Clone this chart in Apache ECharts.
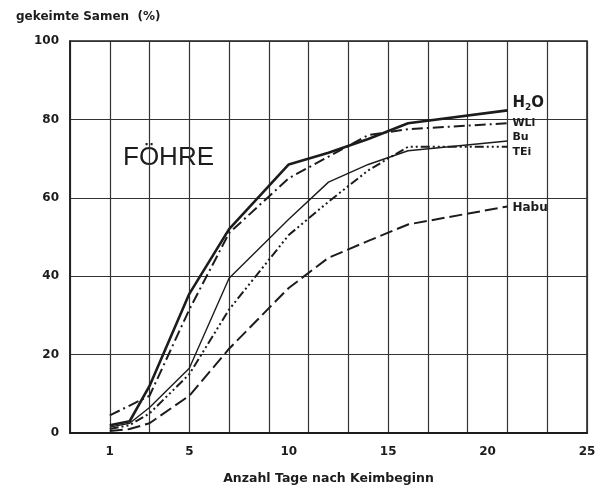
<!DOCTYPE html>
<html>
<head>
<meta charset="utf-8">
<script src="https://cdn.jsdelivr.net/npm/echarts@6/dist/echarts.min.js"></script>
<style>
  html, body { margin: 0; padding: 0; background: #fff; }
  #main { width: 603px; height: 490px; }
</style>
</head>
<body>
<div id="main"></div>
<script>
// days after germination start (x values of measured points)
const days = [1, 2, 3, 5, 7, 10, 12, 14, 16, 21];

// germinated seeds in %
const h2o = [2, 3, 12, 35.5, 52, 68.5, 71.5, 75, 79, 82.3];
const wli = [4.5, 7, 9.5, 31.5, 51, 65, 70.5, 76, 77.5, 79];
const bu = [1.5, 2.5, 6.5, 16.5, 39.5, 54.5, 64, 68.5, 72, 74.5];
const tei = [1, 2, 5, 15, 31.5, 50.5, 59, 67, 73, 73];
const habu = [0.5, 1, 2.5, 9.5, 21.5, 37, 44.7, 49, 53.2, 57.8];

const xLabels = [1, 5, 10, 15, 20, 25];
const yTicks = [0, 20, 40, 60, 80, 100];

const ink = "#1c1c1c";
const font = "DejaVu Sans";

const pairs = (vals) => days.map((d, i) => [d, vals[i]]);

const lineLabel = (text, offset, size) => ({
  show: true,
  formatter: text,
  offset: offset,
  color: ink,
  fontFamily: font,
  fontWeight: "bold",
  fontSize: size || 11,
});

const chart = echarts.init(document.getElementById("main"));

const options = {
  animation: false,
  backgroundColor: "#fff",
  title: {
    text: "gekeimte Samen  (%)",
    left: 11,
    top: 6,
    textStyle: { color: ink, fontFamily: font, fontWeight: "bold", fontSize: 12 },
  },
  graphic: [
    {
      type: "text",
      style: {
        x: 123,
        y: 158,
        text: "FÖHRE",
        fill: ink,
        font: "26px 'Liberation Sans'",
        verticalAlign: "middle",
      },
    },
  ],
  grid: {
    left: 70,
    right: 16,
    top: 41,
    bottom: 54,
    show: true,
    borderColor: ink,
    borderWidth: 1.5,
  },
  xAxis: {
    type: "value",
    min: -1,
    max: 25,
    interval: 2,
    name: "Anzahl Tage nach Keimbeginn",
    nameLocation: "middle",
    nameGap: 39,
    nameTextStyle: { color: ink, fontFamily: font, fontWeight: "bold", fontSize: 12.5 },
    axisLine: { show: true, onZero: false, lineStyle: { color: ink, width: 2 } },
    axisTick: { show: false },
    axisLabel: {
      customValues: xLabels,
      margin: 13,
      color: ink,
      fontFamily: font,
      fontWeight: "bold",
      fontSize: 12,
    },
    splitLine: { show: true, lineStyle: { color: "#333", width: 1.2 } },
  },
  yAxis: {
    type: "value",
    min: 0,
    max: 100,
    interval: 20,
    axisLine: { show: true, onZero: false, lineStyle: { color: ink, width: 1.5 } },
    axisTick: { show: false },
    axisLabel: {
      margin: 11,
      color: ink,
      fontFamily: font,
      fontWeight: "bold",
      fontSize: 12,
      formatter: (v) => (yTicks.includes(v) ? String(v) : ""),
    },
    splitLine: { show: true, lineStyle: { color: "#333", width: 1.2 } },
  },
  series: [
    {
      name: "H2O",
      type: "line",
      data: pairs(h2o),
      symbol: "none",
      lineStyle: { color: ink, width: 2.6 },
      endLabel: {
        show: true,
        formatter: "{a|H}{s|2}{a|O}",
        offset: [-3, -7],
        rich: {
          a: { color: ink, fontFamily: font, fontWeight: "bold", fontSize: 15 },
          s: { color: ink, fontFamily: font, fontWeight: "bold", fontSize: 9, padding: [9, 0, 0, 0] },
        },
      },
    },
    {
      name: "WLi",
      type: "line",
      data: pairs(wli),
      symbol: "none",
      lineStyle: { color: ink, width: 2, type: [11, 4, 2, 4] },
      endLabel: lineLabel("WLi", [-3, 0]),
    },
    {
      name: "Bu",
      type: "line",
      data: pairs(bu),
      symbol: "none",
      lineStyle: { color: ink, width: 1.4 },
      endLabel: lineLabel("Bu", [-3, -4]),
    },
    {
      name: "TEi",
      type: "line",
      data: pairs(tei),
      symbol: "none",
      lineStyle: { color: ink, width: 2, type: [9, 3, 2, 3, 2, 3, 2, 3] },
      endLabel: lineLabel("TEi", [-3, 5]),
    },
    {
      name: "Habu",
      type: "line",
      data: pairs(habu),
      symbol: "none",
      lineStyle: { color: ink, width: 2, type: [13, 5] },
      endLabel: lineLabel("Habu", [-3, 1], 12),
    },
  ],
};

chart.setOption(options);
</script>
</body>
</html>
